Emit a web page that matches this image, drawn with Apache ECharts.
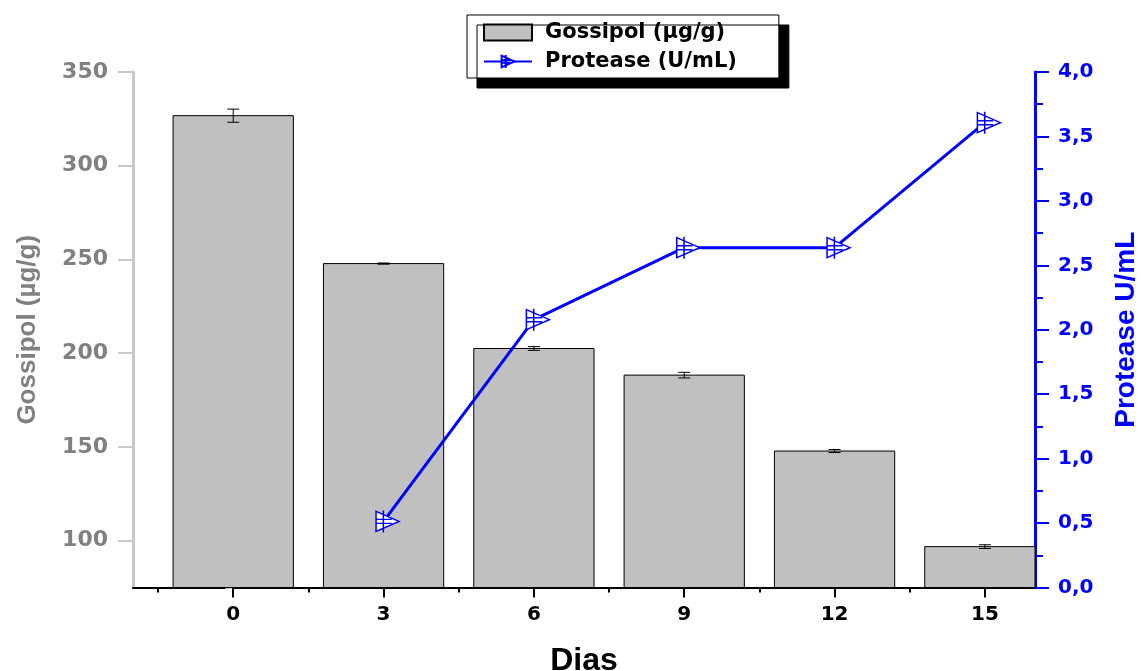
<!DOCTYPE html>
<html>
<head>
<meta charset="utf-8">
<script src="https://cdn.jsdelivr.net/npm/echarts@6/dist/echarts.min.js"></script>
<style>html,body{margin:0;padding:0;background:#fff}#c{width:1141px;height:671px}</style>
</head>
<body>
<div id="c"></div>
<script>
// ---- data ----
const days = [0, 3, 6, 9, 12, 15];
const gossipol = [326.7, 247.8, 202.5, 188.3, 147.8, 96.8];
const gossipolErr = [3.5, 0.3, 1.0, 1.5, 0.8, 1.0];
const proteaseDays = [3, 6, 9, 12, 15];
const protease = [0.513, 2.078, 2.637, 2.637, 3.607];
const xMajorTicks = [0, 3, 6, 9, 12, 15];
const xMinorTicks = [-1.5, 1.5, 4.5, 7.5, 10.5, 13.5];
const yLeftMajor = [100, 150, 200, 250, 300, 350];
const yLeftMinor = [75, 125, 175, 225, 275, 325];

const barData = days.map((d, i) => [d, gossipol[i]]);
const errData = days.map((d, i) => [d, gossipol[i] - gossipolErr[i], gossipol[i] + gossipolErr[i]]);
const lineData = proteaseDays.map((d, i) => [d, protease[i]]);

const BLUE = '#0000ff';
const GREY = '#808080';
const LGREY = '#c8c8c8';
const BAR_FILL = '#c0c0c0';
const F = 'DejaVu Sans';
const FT = 'Liberation Sans';
const BAR_WIDTH_UNITS = 2.4;

const markerPath = 'path://M0,1 L22,11 L0,21 Z M7,0 L7,22 M0,9 L15,9 M0,13 L15,13';

const chart = echarts.init(document.getElementById('c'));
chart.setOption({
  animation: false,
  backgroundColor: '#fff',
  grid: { left: 133, right: 106, top: 72, bottom: 83.5, containLabel: false, outerBoundsMode: 'none' },
  legend: {
    left: 467, top: 15,
    orient: 'vertical',
    padding: [7, 42, 6, 16],
    itemGap: 8,
    itemWidth: 48, itemHeight: 16,
    backgroundColor: '#fff',
    borderColor: '#000', borderWidth: 1,
    shadowColor: '#000', shadowBlur: 0, shadowOffsetX: 10, shadowOffsetY: 10,
    textStyle: { fontFamily: F, fontWeight: 'bold', fontSize: 21, color: '#000', padding: [0, 0, 0, 8] },
    data: [
      { name: 'Gossipol (µg/g)', icon: 'rect' },
      { name: 'Protease (U/mL)' }
    ]
  },
  xAxis: [{
    type: 'value', min: -2, max: 16, position: 'bottom',
    name: 'Dias', nameLocation: 'middle', nameGap: 58,
    nameTextStyle: { fontFamily: FT, fontWeight: 'bold', fontSize: 32, color: '#000' },
    axisLine: { show: true, onZero: false, lineStyle: { color: '#000', width: 2 } },
    axisTick: { show: true, inside: false, length: 10, customValues: xMajorTicks, lineStyle: { color: '#000', width: 2 } },
    axisLabel: { customValues: xMajorTicks, margin: 17, fontFamily: F, fontWeight: 'bold', fontSize: 20, color: '#000' },
    splitLine: { show: false }
  }, {
    type: 'value', min: -2, max: 16, position: 'bottom',
    axisLine: { show: false },
    axisTick: { show: true, inside: false, length: 5, customValues: xMinorTicks, lineStyle: { color: '#000', width: 2 } },
    axisLabel: { show: false },
    splitLine: { show: false }
  }],
  yAxis: [{
    type: 'value', min: 75, max: 350, position: 'left',
    name: 'Gossipol (µg/g)', nameLocation: 'middle', nameGap: 92, nameRotate: 90,
    nameTextStyle: { fontFamily: FT, fontWeight: 'bold', fontSize: 26, color: GREY },
    axisLine: { show: true, onZero: false, lineStyle: { color: LGREY, width: 3 } },
    axisTick: { show: true, length: 15, customValues: yLeftMajor, lineStyle: { color: LGREY, width: 2 } },
    axisLabel: { customValues: yLeftMajor, margin: 25, fontFamily: F, fontWeight: 'bold', fontSize: 22, color: GREY },
    splitLine: { show: false }
  }, {
    type: 'value', min: 75, max: 350, position: 'left',
    axisLine: { show: false },
    axisTick: { show: true, length: 8, customValues: yLeftMinor, lineStyle: { color: LGREY, width: 2 } },
    axisLabel: { show: false },
    splitLine: { show: false }
  }, {
    type: 'value', min: 0, max: 4, interval: 0.5, position: 'right',
    name: 'Protease U/mL', nameLocation: 'middle', nameGap: 77, nameRotate: 90,
    nameTextStyle: { fontFamily: FT, fontWeight: 'bold', fontSize: 28, color: BLUE },
    axisLine: { show: true, onZero: false, lineStyle: { color: BLUE, width: 3 } },
    axisTick: { show: true, length: 14, lineStyle: { color: BLUE, width: 2 } },
    minorTick: { show: true, splitNumber: 2, length: 8, lineStyle: { color: BLUE, width: 2 } },
    axisLabel: { margin: 23, fontFamily: F, fontWeight: 'bold', fontSize: 20, color: BLUE,
      formatter: v => v.toFixed(1).replace('.', ',') },
    splitLine: { show: false }
  }],
  series: [{
    name: 'Gossipol (µg/g)',
    type: 'custom', xAxisIndex: 0, yAxisIndex: 0,
    data: barData,
    itemStyle: { color: BAR_FILL, borderColor: '#000', borderWidth: 1 },
    encode: { x: 0, y: 1 },
    renderItem: function (params, api) {
      const x = api.value(0);
      const top = api.coord([x, api.value(1)]);
      const base = api.coord([x, 0]);
      const w = api.size([BAR_WIDTH_UNITS, 0])[0];
      const cs = params.coordSys;
      const r = echarts.graphic.clipRectByRect(
        { x: top[0] - w / 2, y: top[1], width: w, height: base[1] - top[1] },
        { x: cs.x, y: cs.y, width: cs.width, height: cs.height }
      );
      if (!r) return null;
      return { type: 'rect', shape: r, style: { fill: BAR_FILL, stroke: '#000', lineWidth: 1 } };
    },
    z: 2
  }, {
    name: 'errors',
    type: 'custom', xAxisIndex: 0, yAxisIndex: 0,
    data: errData,
    encode: { x: 0, y: [1, 2] },
    renderItem: function (params, api) {
      const x = api.value(0);
      const lo = api.coord([x, api.value(1)]);
      const hi = api.coord([x, api.value(2)]);
      const hw = 6;
      const st = { stroke: '#000', lineWidth: 1 };
      return {
        type: 'group',
        children: [
          { type: 'line', shape: { x1: lo[0], y1: lo[1], x2: hi[0], y2: hi[1] }, style: st },
          { type: 'line', shape: { x1: lo[0] - hw, y1: lo[1], x2: lo[0] + hw, y2: lo[1] }, style: st },
          { type: 'line', shape: { x1: hi[0] - hw, y1: hi[1], x2: hi[0] + hw, y2: hi[1] }, style: st }
        ]
      };
    },
    z: 3
  }, {
    name: 'Protease (U/mL)',
    type: 'line', xAxisIndex: 0, yAxisIndex: 2,
    data: lineData,
    symbol: markerPath,
    symbolSize: [23, 22],
    symbolOffset: [4, 0],
    showAllSymbol: true,
    lineStyle: { color: BLUE, width: 3 },
    itemStyle: { color: '#fff', borderColor: BLUE, borderWidth: 1.5 },
    z: 4
  }]
});
</script>
</body>
</html>
